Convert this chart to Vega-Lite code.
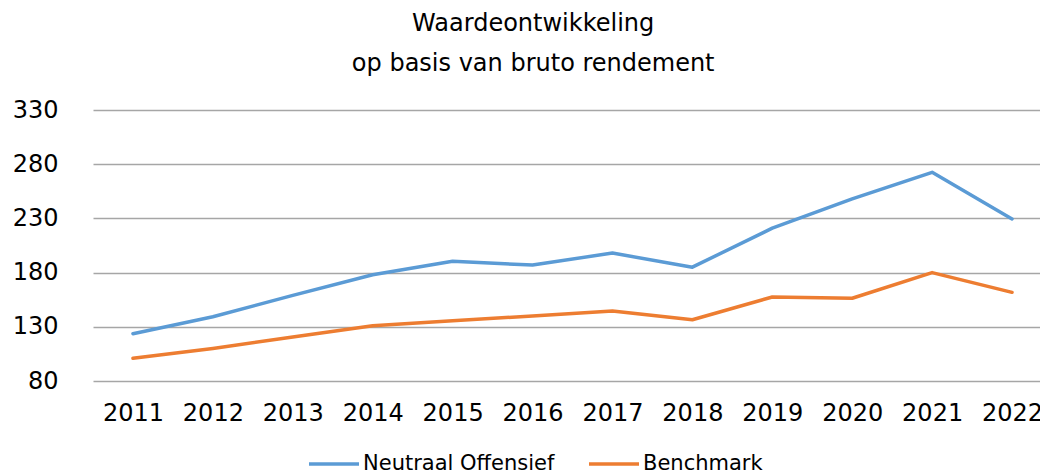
{
  "$schema": "https://vega.github.io/schema/vega-lite/v6.json",
  "autosize": "none",
  "padding": {"left": 93, "top": 110, "right": 0, "bottom": 93},
  "width": 959,
  "height": 271,
  "background": "white",
  "title": {
    "text": ["Waardeontwikkeling", "op basis van bruto rendement"],
    "font": "DejaVu Sans",
    "fontSize": 24,
    "fontWeight": "normal",
    "color": "#000000",
    "lineHeight": 40,
    "anchor": "start",
    "dx": 521,
    "offset": 22,
    "align": "center"
  },
  "data": {
    "values": [
      {"year": "2011", "series": "Neutraal Offensief", "value": 123.6},
      {"year": "2012", "series": "Neutraal Offensief", "value": 139.3},
      {"year": "2013", "series": "Neutraal Offensief", "value": 159},
      {"year": "2014", "series": "Neutraal Offensief", "value": 178},
      {"year": "2015", "series": "Neutraal Offensief", "value": 190.4},
      {"year": "2016", "series": "Neutraal Offensief", "value": 187},
      {"year": "2017", "series": "Neutraal Offensief", "value": 198},
      {"year": "2018", "series": "Neutraal Offensief", "value": 185},
      {"year": "2019", "series": "Neutraal Offensief", "value": 221},
      {"year": "2020", "series": "Neutraal Offensief", "value": 248},
      {"year": "2021", "series": "Neutraal Offensief", "value": 272.5},
      {"year": "2022", "series": "Neutraal Offensief", "value": 229.5},
      {"year": "2011", "series": "Benchmark", "value": 101},
      {"year": "2012", "series": "Benchmark", "value": 110},
      {"year": "2013", "series": "Benchmark", "value": 120.6},
      {"year": "2014", "series": "Benchmark", "value": 131},
      {"year": "2015", "series": "Benchmark", "value": 135.5},
      {"year": "2016", "series": "Benchmark", "value": 140},
      {"year": "2017", "series": "Benchmark", "value": 144.6},
      {"year": "2018", "series": "Benchmark", "value": 136.5},
      {"year": "2019", "series": "Benchmark", "value": 157.5},
      {"year": "2020", "series": "Benchmark", "value": 156.3},
      {"year": "2021", "series": "Benchmark", "value": 180},
      {"year": "2022", "series": "Benchmark", "value": 161.8}
    ]
  },
  "mark": {"type": "line", "strokeWidth": 3.5, "strokeJoin": "round", "strokeCap": "round"},
  "encoding": {
    "x": {
      "field": "year",
      "type": "ordinal",
      "scale": {"type": "point", "padding": 0.5},
      "axis": {
        "title": null,
        "labelAngle": 0,
        "labelFont": "DejaVu Sans",
        "labelFontSize": 24,
        "labelColor": "#000000",
        "labelPadding": 20,
        "ticks": false,
        "domain": false,
        "grid": false
      }
    },
    "y": {
      "field": "value",
      "type": "quantitative",
      "scale": {"domain": [80, 330], "nice": false, "zero": false},
      "axis": {
        "title": null,
        "values": [80, 130, 180, 230, 280, 330],
        "labelFont": "DejaVu Sans",
        "labelFontSize": 24,
        "labelColor": "#000000",
        "labelPadding": 35,
        "ticks": false,
        "domain": false,
        "grid": true,
        "gridColor": "#a6a6a6",
        "gridWidth": 1.5
      }
    },
    "color": {
      "field": "series",
      "type": "nominal",
      "sort": ["Neutraal Offensief", "Benchmark"],
      "scale": {"domain": ["Neutraal Offensief", "Benchmark"], "range": ["#5b9bd5", "#ed7d31"]},
      "legend": {
        "title": null,
        "orient": "none",
        "direction": "horizontal",
        "legendX": 214,
        "legendY": 327,
        "symbolType": "stroke",
        "symbolSize": 2500,
        "symbolStrokeWidth": 3.5,
        "labelFont": "DejaVu Sans",
        "labelFontSize": 21,
        "labelLimit": 400,
        "labelColor": "#000000",
        "labelOffset": 2,
        "columnPadding": 27
      }
    }
  },
  "config": {"view": {"stroke": null}}
}
